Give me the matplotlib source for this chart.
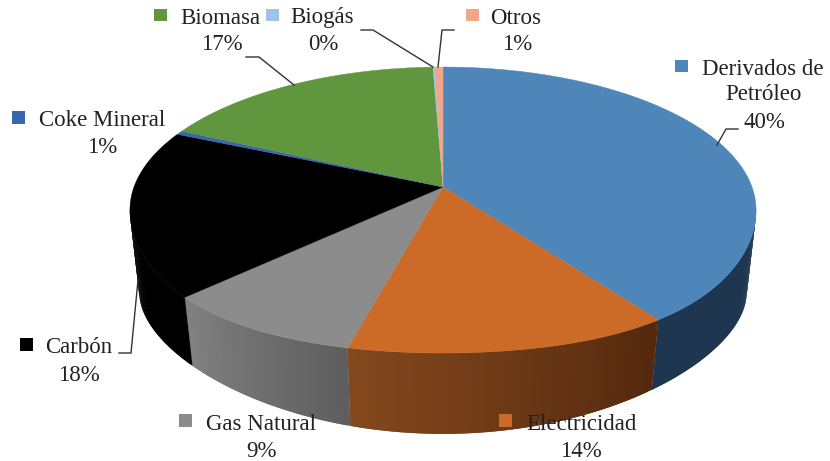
import matplotlib
matplotlib.use('Agg')
import matplotlib.pyplot as plt
from matplotlib.patches import Polygon, Rectangle
import numpy as np

plt.rcParams['font.family'] = ['Liberation Serif', 'DejaVu Serif']

# slices clockwise from 12 o'clock
categories = ['Derivados de\nPetróleo', 'Electricidad', 'Gas Natural', 'Carbón',
              'Coke Mineral', 'Biomasa', 'Biogás', 'Otros']
values = [39.6, 14.6, 9.2, 18.2, 0.45, 17.35, 0.1, 0.5]
percent_labels = ['40%', '14%', '9%', '18%', '1%', '17%', '0%', '1%']
colors = ['#4F86BA', '#CC6B28', '#8C8C8C', '#000000', '#3A66AE', '#5F963E', '#9DC3E6', '#F0A68A']
# wall shading, start and end of each slice
wall_start = ['#1F3650', '#85491E', '#828282', '#000000', '#000000', '#000000', '#000000', '#000000']
wall_end = ['#1F3650', '#54290E', '#5E5E5E', '#000000', '#000000', '#000000', '#000000', '#000000']

# pie placement in pixels, with the perspective of the original 3D pie
cx, cy = 443, 187
rx, ry = 309, 139.3
persp = 0.161
x_shrink = 0.97


def top_face(theta):
    u, v = np.sin(theta), np.cos(theta)
    w = 1 + persp * v
    # the front of the original bulges a bit past a true ellipse
    bulge = np.where(v < 0, 26 * (u * v) ** 2, 0)
    return cx + rx * u / w, cy - ry * v / w + bulge


def bottom_edge(theta):
    u, v = np.sin(theta), np.cos(theta)
    w = 1 + persp * v
    t = -v / w
    return cx + x_shrink * rx * u / w, 274.4 + 104 * t + 25 * t * t


fig = plt.figure(figsize=(8.3, 4.61), dpi=100)
ax = fig.add_axes([0, 0, 1, 1])
ax.set_xlim(0, 830)
ax.set_ylim(461, 0)
ax.axis('off')

edges = np.concatenate([[0], np.cumsum(values)]) / np.sum(values) * 2 * np.pi

# the wall is only visible between the two side extremes of the ellipse
wall_lo = np.pi / 2 + np.arcsin(persp)
wall_hi = 3 * np.pi / 2 - np.arcsin(persp)

for i in range(len(values)):
    a = max(edges[i], wall_lo)
    b = min(edges[i + 1], wall_hi)
    if b <= a:
        continue
    c0 = np.array(matplotlib.colors.to_rgb(wall_start[i]))
    c1 = np.array(matplotlib.colors.to_rgb(wall_end[i]))
    steps = np.linspace(a, b, 60)
    # painted last strip first, each one overlaps the next so no seams show
    for j in range(len(steps) - 2, -1, -1):
        t0 = steps[j]
        t1 = steps[min(j + 2, len(steps) - 1)]
        f = (j + 0.5) / (len(steps) - 1)
        # orange and gray darken going right, theta runs right to left
        col = c1 + (c0 - c1) * f
        x0, y0 = top_face(t0)
        x1, y1 = top_face(t1)
        x2, y2 = bottom_edge(t1)
        x3, y3 = bottom_edge(t0)
        ax.add_patch(Polygon([(x0, y0), (x1, y1), (x2, y2), (x3, y3)], closed=True,
                             facecolor=col, edgecolor='none', zorder=1 + i * 0.01))

for i in range(len(values)):
    th = np.linspace(edges[i], edges[i + 1], 150)
    xs, ys = top_face(th)
    pts = [(cx, cy)] + list(zip(xs, ys))
    ax.add_patch(Polygon(pts, closed=True, facecolor=colors[i], edgecolor=colors[i],
                         linewidth=0.3, zorder=2))

# leader lines
leaders = [
    ([738, 726, 717], [129, 129, 145]),
    ([119, 131, 138], [353, 353, 280]),
    ([246, 259, 294], [57, 57, 85]),
    ([361, 373, 433], [30, 30, 67]),
    ([454, 442, 438], [30, 30, 67]),
]
for lx, ly in leaders:
    ax.plot(lx, ly, color='#333333', lw=1, zorder=3, solid_joinstyle='miter')

# text centre x, name y, percent y, legend key x and y
name_x = [763, 581, 261, 79, 102, 220, 322, 516]
pct_x = [764, 581, 261, 79, 102, 222, 323, 517]
name_y = [82, 424, 424, 347, 120, 18, 18, 18]
pct_y = [122, 451, 451, 375, 147, 45, 45, 45]
key_x = [675, 499, 179, 20, 12, 154, 266, 466]
key_y = [60, 414, 414, 338, 111, 9, 9, 9]

for i in range(len(values)):
    ax.text(name_x[i], name_y[i], categories[i], ha='center', va='center', fontsize=16.5,
            color='#222222', linespacing=1.3, zorder=5)
    ax.text(pct_x[i], pct_y[i], percent_labels[i], ha='center', va='center', fontsize=16.5,
            color='#222222', zorder=5)
    ax.add_patch(Rectangle((key_x[i], key_y[i]), 12.5, 12.5, facecolor=colors[i],
                           edgecolor='none', zorder=4))

fig.savefig('out.png', dpi=100, facecolor='white')
